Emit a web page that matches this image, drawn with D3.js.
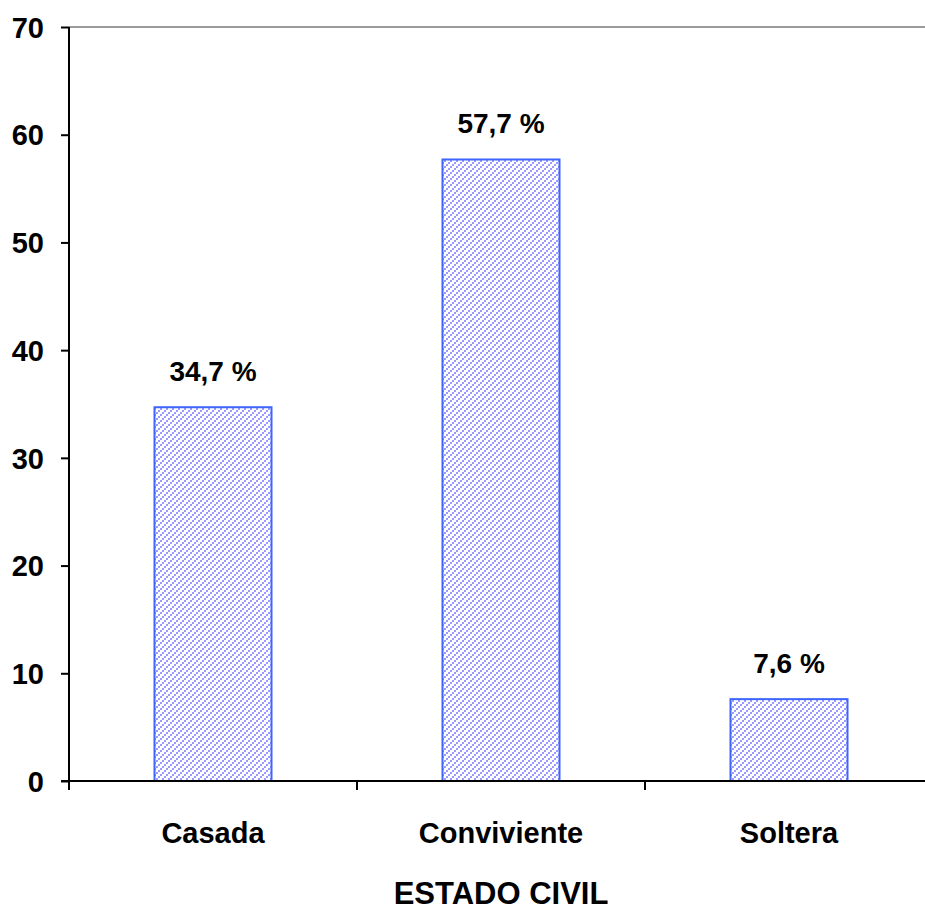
<!DOCTYPE html>
<html>
<head>
<meta charset="utf-8">
<script src="https://cdn.jsdelivr.net/npm/d3@7"></script>
<style>
  html, body { margin: 0; padding: 0; background: #fff; }
  svg { display: block; }
  text { font-family: Arial, "Liberation Sans", sans-serif; font-weight: bold; fill: #000; }
</style>
</head>
<body>
<svg id="chart" width="925" height="912"></svg>
<script>
// Estado civil (%)
const categories = ["Casada", "Conviviente", "Soltera"];
const values = [34.7, 57.7, 7.6];
const yTicks = [0, 10, 20, 30, 40, 50, 60, 70];
const axisTitle = "ESTADO CIVIL";

const svg = d3.select("#chart");
const plotLeft = 69, plotTop = 27, plotBottom = 781, step = 288;

const x = d3.scaleBand()
  .domain(categories)
  .range([plotLeft, plotLeft + step * categories.length])
  .padding(0);
const y = d3.scaleLinear().domain([0, 70]).range([plotBottom, plotTop]);

// diagonal hatch fill built from small squares stepping up to the right
const defs = svg.append("defs");
const pat = defs.append("pattern")
  .attr("id", "hatch")
  .attr("patternUnits", "userSpaceOnUse")
  .attr("width", 6).attr("height", 6);
pat.selectAll("rect")
  .data([[0, 4], [2, 2], [4, 0]])
  .join("rect")
  .attr("x", d => d[0]).attr("y", d => d[1])
  .attr("width", 2).attr("height", 2)
  .attr("fill", "#9999ff")
  .attr("shape-rendering", "crispEdges");

// top frame line
svg.append("line")
  .attr("x1", plotLeft).attr("x2", 925)
  .attr("y1", plotTop).attr("y2", plotTop)
  .attr("stroke", "#9a9a9a").attr("stroke-width", 2);

// bars
const barW = 117;
svg.selectAll("rect.bar")
  .data(values)
  .join("rect")
  .attr("class", "bar")
  .attr("x", (d, i) => x(categories[i]) + x.bandwidth() / 2 - barW / 2)
  .attr("y", d => y(d))
  .attr("width", barW)
  .attr("height", d => y(0) - y(d))
  .attr("fill", "url(#hatch)")
  .attr("stroke", "#3d66ff")
  .attr("stroke-width", 2);

// value labels
svg.selectAll("text.val")
  .data(values)
  .join("text")
  .attr("class", "val")
  .attr("x", (d, i) => x(categories[i]) + x.bandwidth() / 2)
  .attr("y", d => y(d) - 26)
  .attr("text-anchor", "middle")
  .attr("font-size", 28)
  .text(d => d3.format(".1f")(d).replace(".", ",") + " %");

// y axis
const yAxis = svg.append("g")
  .attr("transform", `translate(${plotLeft},0)`)
  .call(d3.axisLeft(y).tickValues(yTicks).tickSize(8).tickPadding(17).tickFormat(d3.format("d")));
yAxis.select(".domain").attr("stroke", "#000").attr("stroke-width", 2).attr("d", `M0,${plotTop}V${plotBottom}`);
yAxis.selectAll(".tick line").attr("stroke", "#000").attr("stroke-width", 2);
yAxis.selectAll(".tick text")
  .attr("font-size", 29)
  .attr("dy", "0.35em")
  .attr("font-family", "Arial, 'Liberation Sans', sans-serif")
  .attr("font-weight", "bold")
  .attr("fill", "#000");

// x axis
const xEdges = d3.range(categories.length + 1).map(i => plotLeft + i * step);
svg.append("line")
  .attr("x1", plotLeft - 8).attr("x2", 925)
  .attr("y1", plotBottom).attr("y2", plotBottom)
  .attr("stroke", "#000").attr("stroke-width", 2);
svg.selectAll("line.xtick")
  .data(xEdges)
  .join("line")
  .attr("class", "xtick")
  .attr("x1", d => d).attr("x2", d => d)
  .attr("y1", plotBottom).attr("y2", plotBottom + 9)
  .attr("stroke", "#000").attr("stroke-width", 2);

svg.selectAll("text.cat")
  .data(categories)
  .join("text")
  .attr("class", "cat")
  .attr("x", d => x(d) + x.bandwidth() / 2)
  .attr("y", 843)
  .attr("text-anchor", "middle")
  .attr("font-size", 29)
  .text(d => d);

svg.append("text")
  .attr("x", plotLeft + step * 1.5)
  .attr("y", 904)
  .attr("text-anchor", "middle")
  .attr("font-size", 31)
  .text(axisTitle);
</script>
</body>
</html>
